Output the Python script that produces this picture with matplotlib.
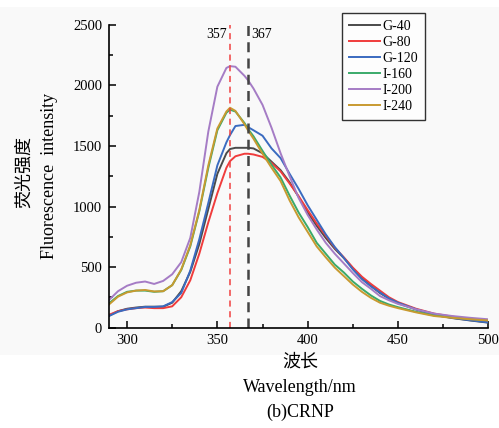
import matplotlib
matplotlib.use("Agg")
import matplotlib.pyplot as plt
from matplotlib.patches import Rectangle
from matplotlib.ticker import MultipleLocator
import numpy as np

wl = [290, 295, 300, 305, 310, 315, 320, 325, 330, 335, 340, 345, 350, 355, 357,
      360, 365, 367, 370, 375, 380, 385, 390, 395, 400, 405, 410, 415, 420, 425,
      430, 435, 440, 445, 450, 460, 470, 480, 490, 500]

g40 = [97, 135, 155, 165, 172, 172, 172, 205, 300, 460, 690, 980, 1270, 1440, 1475,
       1485, 1485, 1485, 1480, 1440, 1370, 1300, 1200, 1080, 950, 840, 740, 650, 575, 490,
       410, 345, 285, 240, 200, 150, 105, 78, 58, 40]
g80 = [105, 135, 150, 160, 165, 160, 160, 175, 250, 390, 610, 870, 1110, 1320, 1375,
       1415, 1436, 1436, 1430, 1410, 1360, 1290, 1190, 1085, 970, 860, 760, 660, 580, 495,
       420, 360, 305, 250, 210, 155, 115, 90, 70, 55]
g120 = [95, 130, 150, 160, 170, 170, 175, 210, 285, 470, 730, 1030, 1340, 1530, 1590,
        1665, 1675, 1656, 1630, 1585, 1480, 1400, 1270, 1145, 1010, 890, 770, 665, 575, 480,
        400, 340, 290, 240, 205, 150, 110, 80, 60, 42]
i160 = [200, 260, 295, 305, 305, 295, 300, 350, 475, 670, 960, 1320, 1630, 1775, 1800,
        1785, 1690, 1640, 1580, 1460, 1345, 1240, 1090, 950, 830, 700, 610, 520, 455, 380,
        320, 265, 220, 190, 168, 130, 100, 85, 72, 60]
i200 = [227, 300, 345, 370, 380, 360, 385, 440, 540, 740, 1120, 1620, 1990, 2145, 2160,
        2155, 2080, 2043, 1975, 1840, 1650, 1440, 1250, 1070, 930, 810, 700, 610, 530, 450,
        375, 320, 260, 225, 195, 150, 115, 95, 80, 68]
i240 = [190, 255, 290, 305, 310, 298, 300, 350, 480, 680, 970, 1340, 1645, 1785, 1816,
        1790, 1680, 1629, 1560, 1436, 1320, 1210, 1050, 910, 790, 670, 580, 495, 425, 355,
        295, 245, 205, 180, 160, 125, 95, 80, 68, 58]

labels = ["G-40", "G-80", "G-120", "I-160", "I-200", "I-240"]
colors = ["#4a4a4a", "#f03c3c", "#3a6bc0", "#3aaa6a", "#a57cc5", "#c89a30"]
series = [g40, g80, g120, i160, i200, i240]

peak_red = 357
peak_black = 367

serif = ["Liberation Serif", "DejaVu Serif"]
cjk = ["Noto Sans CJK SC", "DejaVu Sans"]

fig = plt.figure(figsize=(4.99, 4.28), dpi=100, facecolor="white")
fig.patches.append(Rectangle((0, 1 - 355 / 428), 1, (355 - 7) / 428,
                             transform=fig.transFigure, facecolor="#f9f9f9",
                             edgecolor="none", zorder=-10))

ax = fig.add_axes([0.2184, 0.2348, 0.7602, 0.7068])
ax.set_facecolor("none")

for y, lab, c in zip(series, labels, colors):
    ax.plot(wl, y, color=c, lw=1.4, label=lab)

ax.axvline(peak_red, color="#f04040", ls=(0, (4, 3)), lw=1.1)
ax.axvline(peak_black, color="#444444", ls=(0, (4, 2.5)), lw=1.8)
ax.text(peak_red - 1.5, 2420, str(peak_red), ha="right", va="center",
        fontsize=10, family=serif)
ax.text(peak_black + 1.5, 2420, str(peak_black), ha="left", va="center",
        fontsize=10, family=serif)

ax.set_xlim(290, 500)
ax.set_ylim(0, 2500)
ax.xaxis.set_major_locator(MultipleLocator(50))
ax.xaxis.set_minor_locator(MultipleLocator(25))
ax.yaxis.set_major_locator(MultipleLocator(500))
ax.yaxis.set_minor_locator(MultipleLocator(250))
ax.tick_params(which="both", direction="in", width=1.1, labelsize=10.5, pad=5)
ax.tick_params(which="major", length=5)
ax.tick_params(which="minor", length=3)
for t in ax.get_xticklabels() + ax.get_yticklabels():
    t.set_family(serif)
for s in ["top", "right"]:
    ax.spines[s].set_visible(False)
for s in ["left", "bottom"]:
    ax.spines[s].set_linewidth(1.2)

leg = ax.legend(loc="upper left", bbox_to_anchor=(342 / 499, 1 - 13 / 428),
                bbox_transform=fig.transFigure, prop={"family": serif, "size": 10},
                frameon=True, fancybox=False, handlelength=2.2, handletextpad=0.2,
                labelspacing=0.22, borderpad=0.5, borderaxespad=0)
leg.get_frame().set_edgecolor("black")
leg.get_frame().set_linewidth(1.0)

fig.text(24 / 499, 1 - 172 / 428, "荧光强度", rotation=90, ha="center", va="center",
         fontsize=13, family=cjk)
fig.text(50 / 499, 1 - 176 / 428, "Fluorescence  intensity", rotation=90,
         ha="center", va="center", fontsize=13, family=serif)
fig.text(300 / 499, 1 - 362 / 428, "波长", ha="center", va="center",
         fontsize=13, family=cjk)
fig.text(300 / 499, 1 - 388 / 428, "Wavelength/nm", ha="center", va="center",
         fontsize=13, family=serif)
fig.text(300 / 499, 1 - 412 / 428, "(b)CRNP", ha="center", va="center",
         fontsize=13, family=serif)

fig.savefig("out.png", dpi=100, facecolor="white")
